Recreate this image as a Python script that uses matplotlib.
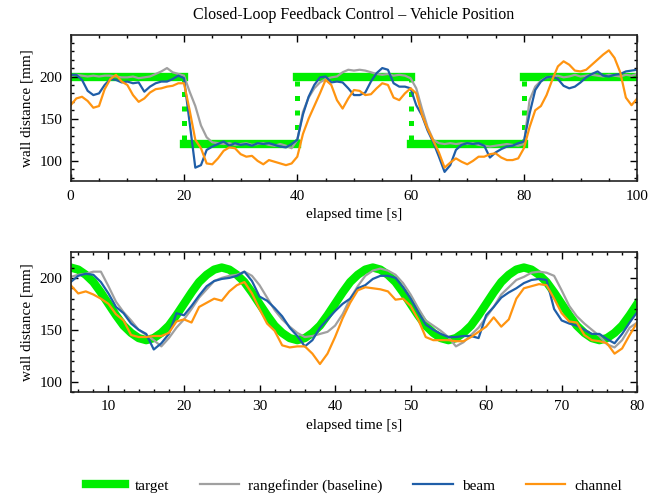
import numpy as np
import matplotlib
matplotlib.use('Agg')
import matplotlib.pyplot as plt
from matplotlib.ticker import MultipleLocator

plt.rcParams['font.family'] = ['Liberation Serif', 'DejaVu Serif']
plt.rcParams['font.size'] = 11

# ---- step experiment (top panel) ----
step_edges = [0, 20, 40, 60, 80, 100]
step_levels = [200, 120, 200, 120, 200]

top_t = np.arange(0, 101)
top_rangefinder = [201, 202, 201, 200, 201, 200, 201, 201, 200, 199, 199, 200, 198, 199, 200, 203,
                   206, 210, 205, 203, 201, 182, 165, 142, 128, 122, 121, 120, 121, 119, 120, 121,
                   119, 120, 121, 119, 118, 120, 118, 115, 125, 158, 175, 186, 193, 197, 199, 200,
                   205, 208, 207, 208, 207, 205, 203, 202, 203, 201, 202, 201, 198, 186, 162, 140,
                   125, 121, 120, 121, 120, 121, 120, 121, 119, 118, 117, 118, 119, 120, 119, 118,
                   120, 172, 188, 195, 199, 200, 201, 199, 200, 202, 200, 201, 202, 201, 200, 202,
                   201, 200, 202, 201, 203]
top_beam = [202, 202, 196, 183, 178, 180, 190, 197, 196, 193, 194, 192, 193, 182, 188, 192,
            194, 194, 197, 201, 198, 145, 92, 95, 113, 117, 120, 123, 118, 121, 119, 120,
            118, 121, 120, 121, 119, 117, 116, 120, 125, 155, 176, 190, 199, 200, 193, 194,
            193, 186, 178, 178, 181, 194, 204, 210, 208, 192, 188, 188, 186, 166, 154, 136,
            122, 105, 87, 95, 113, 119, 121, 120, 121, 118, 104, 110, 114, 117, 118, 121,
            123, 156, 184, 194, 199, 200, 197, 189, 186, 188, 193, 199, 203, 206, 201, 200,
            202, 203, 206, 207, 208]
top_channel = [166, 174, 176, 171, 163, 165, 185, 197, 202, 194, 190, 178, 170, 174, 181, 185,
               186, 188, 189, 192, 192, 160, 125, 115, 97, 96, 103, 112, 116, 115, 108, 105,
               106, 100, 96, 101, 99, 97, 95, 97, 105, 132, 150, 165, 180, 196, 190, 172,
               162, 174, 184, 183, 178, 179, 186, 192, 190, 175, 172, 180, 186, 180, 155, 138,
               124, 110, 92, 98, 103, 99, 96, 100, 105, 105, 108, 109, 104, 101, 101, 103,
               115, 140, 160, 165, 178, 196, 212, 218, 214, 207, 206, 208, 214, 220, 226, 231,
               222, 205, 175, 166, 174]

# ---- sine experiment (bottom panel) ----
bot_t = np.arange(5, 81)
bot_target = [210, 208, 203, 196, 186, 175, 164, 154, 147, 142, 140, 142, 147, 154, 164, 175,
              186, 196, 203, 208, 210, 208, 203, 196, 186, 175, 164, 154, 147, 142, 140, 142,
              147, 154, 164, 175, 186, 196, 203, 208, 210, 208, 203, 196, 186, 175, 164, 154,
              147, 142, 140, 142, 147, 154, 164, 175, 186, 196, 203, 208, 210, 208, 203, 196,
              186, 175, 164, 154, 147, 142, 140, 142, 147, 154, 164, 175]
bot_rangefinder = [201, 203, 204, 206, 206, 192, 177, 167, 159, 150, 145, 140, 134, 142, 152, 160,
                   170, 181, 189, 197, 200, 202, 203, 206, 202, 193, 181, 169, 160, 153, 147, 143,
                   144, 146, 148, 154, 165, 180, 192, 202, 207, 209, 207, 203, 195, 184, 171, 159,
                   154, 149, 143, 134, 138, 145, 152, 162, 172, 184, 191, 198, 201, 205, 206, 205,
                   202, 188, 173, 163, 156, 150, 144, 136, 133, 140, 152, 157]
bot_beam = [196, 202, 204, 203, 196, 185, 172, 166, 156, 150, 146, 131, 137, 146, 166, 164,
            173, 183, 192, 197, 199, 200, 202, 206, 197, 182, 178, 171, 163, 152, 144, 134,
            140, 152, 160, 168, 175, 180, 190, 193, 199, 202, 202, 200, 191, 180, 167, 155,
            150, 146, 143, 143, 144, 144, 142, 164, 172, 181, 186, 190, 195, 198, 199, 198,
            170, 159, 156, 154, 150, 146, 146, 141, 137, 146, 157, 167]
bot_channel = [193, 185, 187, 184, 180, 175, 165, 159, 145, 143, 143, 144, 144, 147, 158, 160,
               157, 172, 176, 180, 178, 187, 193, 196, 185, 170, 156, 149, 135, 133, 134, 134,
               127, 117, 127, 143, 161, 176, 188, 191, 190, 189, 187, 179, 180, 173, 160, 143,
               140, 140, 140, 139, 139, 143, 148, 153, 162, 153, 160, 180, 190, 192, 194, 193,
               180, 166, 158, 157, 145, 140, 139, 137, 127, 132, 145, 157]

C_TARGET = '#00ee00'
C_RANGE = '#a0a0a0'
C_BEAM = '#1f5ea8'
C_CHAN = '#ff9410'
LW = 1.6


def style_axes(ax, xmajor, xminor):
    ax.xaxis.set_major_locator(MultipleLocator(xmajor))
    ax.xaxis.set_minor_locator(MultipleLocator(xminor))
    ax.yaxis.set_major_locator(MultipleLocator(50))
    ax.yaxis.set_minor_locator(MultipleLocator(10))
    ax.tick_params(which='both', direction='in', top=True, right=True, width=1.0, pad=6)
    ax.tick_params(which='major', length=5)
    ax.tick_params(which='minor', length=2.5)
    for sp in ax.spines.values():
        sp.set_linewidth(1.2)
        sp.set_edgecolor('#222222')
    ax.set_xlabel('elapsed time [s]')
    ax.set_ylabel('wall distance [mm]')


fig = plt.figure(figsize=(6.63, 4.95), dpi=100)
ax1 = fig.add_axes([0.1066, 0.634, 0.8545, 0.295])
ax2 = fig.add_axes([0.1066, 0.208, 0.8545, 0.283])

# top: step target, horizontal levels solid, transitions dotted
for i, lvl in enumerate(step_levels):
    ax1.plot([step_edges[i], step_edges[i + 1]], [lvl, lvl], color=C_TARGET, lw=6,
             solid_capstyle='projecting', zorder=1)
for i in range(1, len(step_levels)):
    ax1.plot([step_edges[i], step_edges[i]], [step_levels[i - 1], step_levels[i]],
             color=C_TARGET, lw=3.6, ls=(0, (1, 1.9)), dash_capstyle='butt', zorder=1)
ax1.plot(top_t, top_rangefinder, color=C_RANGE, lw=LW)
ax1.plot(top_t, top_beam, color=C_BEAM, lw=LW)
ax1.plot(top_t, top_channel, color=C_CHAN, lw=LW)
ax1.set_xlim(0, 100)
ax1.set_ylim(76, 249)
style_axes(ax1, 20, 5)

# bottom: sinusoidal target
ax2.plot(bot_t, bot_target, color=C_TARGET, lw=6, label='target', zorder=1)
ax2.plot(bot_t, bot_rangefinder, color=C_RANGE, lw=LW, label='rangefinder (baseline)')
ax2.plot(bot_t, bot_beam, color=C_BEAM, lw=LW, label='beam')
ax2.plot(bot_t, bot_channel, color=C_CHAN, lw=LW, label='channel')
ax2.set_xlim(5, 80)
ax2.set_ylim(90, 225)
style_axes(ax2, 10, 2)

fig.text(0.533, 1 - 15 / 495, 'Closed-Loop Feedback Control \u2013 Vehicle Position',
         ha='center', va='center', fontsize=11.5)

fig.legend(*ax2.get_legend_handles_labels(), loc='center', ncol=4, frameon=False,
           bbox_to_anchor=(0.534, 1 - 486 / 495), handlelength=2.6, handletextpad=0.6,
           columnspacing=2.0, fontsize=11)

fig.savefig('out.png', dpi=100)
